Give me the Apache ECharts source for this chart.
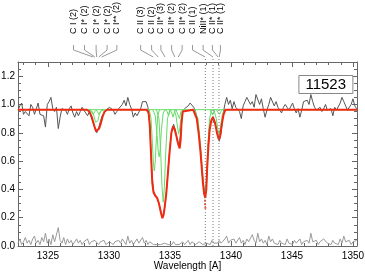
<!DOCTYPE html>
<html>
<head>
<meta charset="utf-8">
<script src="https://cdn.jsdelivr.net/npm/echarts@6/dist/echarts.min.js"></script>
<style>
  html, body { margin: 0; padding: 0; background: #fff; }
  #chart { width: 365px; height: 275px; }
</style>
</head>
<body>
<div id="chart"></div>
<script>
// observed spectrum on a regular wavelength grid (A)
const waveStart = 1322.55;
const waveStep = 0.15;

// normalised flux (10 points per row)
const flux = [
  0.96, 0.99, 1.01, 0.93, 0.95, 0.96, 0.92, 1.00, 0.98, 0.93,
  0.97, 1.01, 0.93, 0.94, 0.92, 0.84, 1.00, 1.02, 1.05, 0.97,
  0.95, 0.98, 0.83, 0.91, 0.97, 0.98, 0.96, 0.93, 0.97, 0.99,
  0.94, 0.91, 0.95, 0.92, 0.95, 0.98, 0.96, 0.94, 0.92, 0.95,
  0.91, 0.87, 0.83, 0.80, 0.83, 0.88, 0.92, 0.93, 0.96, 0.96,
  0.98, 0.97, 0.96, 0.93, 0.95, 0.97, 0.96, 1.00, 1.03, 0.99,
  1.05, 1.00, 0.97, 0.91, 0.94, 0.92, 0.91, 0.97, 1.02, 1.01,
  1.02, 0.98, 0.86, 0.55, 0.39, 0.36, 0.34, 0.30, 0.25, 0.20,
  0.26, 0.37, 0.54, 0.70, 0.82, 0.86, 0.82, 0.74, 0.70, 0.82,
  0.95, 0.97, 0.98, 0.99, 1.01, 1.02, 0.98, 0.95, 0.88, 0.78,
  0.62, 0.46, 0.35, 0.44, 0.72, 0.86, 0.90, 0.91, 0.85, 0.79,
  0.74, 0.80, 0.93, 1.00, 1.05, 1.00, 1.03, 0.97, 1.02, 0.98,
  0.99, 0.95, 0.90, 0.99, 1.02, 1.05, 1.04, 1.00, 1.02, 0.98,
  1.07, 1.08, 1.00, 1.04, 0.97, 0.91, 0.96, 1.00, 1.05, 1.06,
  0.99, 1.02, 0.98, 0.96, 0.94, 0.98, 1.00, 0.98, 0.96, 0.95,
  1.01, 0.97, 0.94, 0.97, 0.91, 0.96, 1.02, 1.01, 1.03, 1.00,
  1.07, 1.02, 0.98, 0.96, 0.96, 0.98, 0.95, 0.97, 1.00, 0.96,
  0.97, 0.97, 0.92, 0.98, 0.96, 0.97, 1.01, 1.05, 1.02, 0.99,
  0.96, 0.97, 1.00, 1.04, 0.99, 0.97
];

// error spectrum along the bottom
const fluxErr = [
  0.02, 0.05, 0.01, 0.03, 0.06, 0.02, 0.04, 0.01, 0.05, 0.07,
  0.02, 0.04, 0.01, 0.06, 0.03, 0.09, 0.02, 0.05, 0.01, 0.08,
  0.03, 0.02, 0.13, 0.04, 0.02, 0.06, 0.01, 0.05, 0.02, 0.04,
  0.01, 0.03, 0.05, 0.02, 0.04, 0.01, 0.03, 0.02, 0.05, 0.01,
  0.03, 0.02, 0.04, 0.05, 0.01, 0.03, 0.02, 0.04, 0.01, 0.02,
  0.03, 0.04, 0.01, 0.03, 0.02, 0.04, 0.02, 0.05, 0.03, 0.01,
  0.07, 0.02, 0.04, 0.01, 0.03, 0.05, 0.02, 0.03, 0.06, 0.02,
  0.04, 0.01, 0.03, 0.02, 0.01, 0.02, 0.01, 0.02, 0.01, 0.01,
  0.02, 0.01, 0.01, 0.02, 0.01, 0.03, 0.01, 0.02, 0.01, 0.02,
  0.03, 0.01, 0.02, 0.04, 0.01, 0.03, 0.02, 0.01, 0.02, 0.03,
  0.02, 0.01, 0.01, 0.02, 0.03, 0.01, 0.04, 0.02, 0.03, 0.02,
  0.04, 0.02, 0.03, 0.05, 0.07, 0.02, 0.04, 0.03, 0.05, 0.02,
  0.03, 0.06, 0.02, 0.04, 0.01, 0.05, 0.03, 0.02, 0.08, 0.04,
  0.02, 0.09, 0.03, 0.05, 0.02, 0.04, 0.01, 0.07, 0.03, 0.05,
  0.02, 0.03, 0.01, 0.04, 0.02, 0.03, 0.01, 0.05, 0.02, 0.03,
  0.01, 0.04, 0.02, 0.03, 0.05, 0.01, 0.03, 0.02, 0.04, 0.02,
  0.09, 0.03, 0.02, 0.04, 0.01, 0.03, 0.02, 0.05, 0.06, 0.02,
  0.03, 0.01, 0.04, 0.02, 0.03, 0.01, 0.05, 0.02, 0.07, 0.03,
  0.02, 0.04, 0.01, 0.03, 0.02, 0.04
];

// total fit (red)
const modelWave = [
  1322.55, 1328.2, 1328.4, 1328.6, 1328.8, 1328.95, 1329.05, 1329.2, 1329.35, 1329.5, 1329.65, 1329.85,
  1333.1, 1333.25, 1333.35, 1333.45, 1333.55, 1333.65, 1333.8, 1333.95, 1334.1, 1334.25, 1334.38,
  1334.48, 1334.58, 1334.7, 1334.85, 1334.98, 1335.12, 1335.26, 1335.4, 1335.55, 1335.68, 1335.8,
  1335.88, 1335.95, 1336.05, 1336.2,
  1336.9, 1337.05, 1337.2, 1337.35, 1337.5, 1337.6, 1337.7, 1337.8, 1337.9, 1337.98, 1338.05,
  1338.15, 1338.25, 1338.4, 1338.53, 1338.7, 1338.85, 1339.0, 1339.1, 1339.25, 1339.4, 1339.55, 1350.33
];
const modelFlux = [
  0.963, 0.963, 0.95, 0.91, 0.85, 0.81, 0.81, 0.83, 0.87, 0.92, 0.95, 0.963,
  0.963, 0.94, 0.85, 0.65, 0.45, 0.38, 0.355, 0.34, 0.30, 0.24, 0.196,
  0.22, 0.28, 0.37, 0.53, 0.67, 0.80, 0.845, 0.82, 0.77, 0.72, 0.69,
  0.75, 0.87, 0.95, 0.963,
  0.963, 0.95, 0.90, 0.80, 0.67, 0.56, 0.45, 0.37, 0.34, 0.40, 0.55,
  0.70, 0.82, 0.89, 0.91, 0.87, 0.80, 0.755, 0.77, 0.86, 0.93, 0.963, 0.963
];
// sparse model points below the narrow dip
const modelDots = [[1337.88, 0.32], [1337.88, 0.295], [1337.9, 0.27]];

// individual fit components (green), [wavelength, flux]
const fitLevel = [[1322.55, 0.963], [1350.33, 0.963]];
const components = [
  [[1328.45, 0.963], [1328.65, 0.95], [1328.8, 0.91], [1328.9, 0.875], [1329.0, 0.865], [1329.1, 0.885], [1329.2, 0.925], [1329.35, 0.955], [1329.55, 0.963]],
  [[1328.95, 0.963], [1329.1, 0.95], [1329.2, 0.93], [1329.3, 0.95], [1329.45, 0.963]],
  [[1328.35, 0.963], [1328.55, 0.95], [1328.7, 0.93], [1328.85, 0.95], [1329.0, 0.963]],
  [[1329.4, 0.963], [1329.55, 0.955], [1329.65, 0.95], [1329.75, 0.955], [1329.9, 0.963]],
  [[1333.3, 0.963], [1333.45, 0.9], [1333.55, 0.75], [1333.65, 0.58], [1333.72, 0.53], [1333.8, 0.6], [1333.9, 0.78], [1334.0, 0.92], [1334.15, 0.963]],
  [[1333.6, 0.963], [1333.8, 0.92], [1333.95, 0.78], [1334.05, 0.66], [1334.12, 0.63], [1334.2, 0.68], [1334.3, 0.82], [1334.45, 0.94], [1334.6, 0.963]],
  [[1333.9, 0.963], [1334.1, 0.9], [1334.25, 0.65], [1334.35, 0.42], [1334.45, 0.31], [1334.55, 0.42], [1334.65, 0.65], [1334.8, 0.9], [1335.0, 0.963]],
  [[1334.6, 0.963], [1334.78, 0.95], [1334.88, 0.92], [1334.98, 0.95], [1335.15, 0.963]],
  [[1334.95, 0.963], [1335.12, 0.95], [1335.25, 0.91], [1335.38, 0.95], [1335.55, 0.963]],
  [[1335.35, 0.963], [1335.5, 0.92], [1335.62, 0.84], [1335.72, 0.79], [1335.82, 0.84], [1335.95, 0.93], [1336.1, 0.963]],
  [[1335.5, 0.963], [1335.65, 0.95], [1335.78, 0.9], [1335.9, 0.95], [1336.05, 0.963]],
  [[1337.0, 0.963], [1337.3, 0.9], [1337.5, 0.72], [1337.65, 0.55], [1337.78, 0.42], [1337.88, 0.36], [1337.98, 0.45], [1338.1, 0.7], [1338.25, 0.9], [1338.4, 0.963]],
  [[1338.3, 0.963], [1338.42, 0.95], [1338.5, 0.925], [1338.58, 0.95], [1338.7, 0.963]],
  [[1338.6, 0.963], [1338.8, 0.9], [1338.93, 0.82], [1339.02, 0.79], [1339.12, 0.83], [1339.3, 0.93], [1339.5, 0.963]],
  [[1338.8, 0.963], [1338.95, 0.95], [1339.06, 0.93], [1339.17, 0.95], [1339.3, 0.963]]
];

// line identifications above the frame
const lineIdTexts = [
  'C I (2)', 'C I* (2)', 'C I* (2)', 'C I* (2)', 'C I** (2)',
  'C II (3)', 'C II (2)', 'C II* (3)', 'C II* (2)', 'C II* (2)', 'C II (1)', 'NiII* (1)', 'C II* (1)', 'C II* (1)'
];
const lineIdLabelWave = [
  1327.1, 1328.0, 1328.95, 1329.85, 1330.65,
  1332.6, 1333.5, 1334.26, 1335.14, 1336.0, 1336.85, 1337.72, 1338.48, 1339.14
];
const lineIdWave = [
  1328.7, 1328.85, 1329.0, 1329.17, 1329.4,
  1333.63, 1334.04, 1334.6, 1335.4, 1335.68, 1337.88, 1338.53, 1338.95, 1339.04
];
const markedWave = [1337.9, 1338.53, 1339.02];

const majorX = [1325, 1330, 1335, 1340, 1345, 1350];
const minorX = [1323, 1324, 1326, 1327, 1328, 1329, 1331, 1332, 1333, 1334, 1336, 1337, 1338, 1339,
  1341, 1342, 1343, 1344, 1346, 1347, 1348, 1349];
const majorY = [0, 0.2, 0.4, 0.6, 0.8, 1.0, 1.2];
const minorY = [0.05, 0.1, 0.15, 0.25, 0.3, 0.35, 0.45, 0.5, 0.55, 0.65, 0.7, 0.75, 0.85, 0.9, 0.95,
  1.05, 1.1, 1.15, 1.25];
const boxLabel = '11523';

const xMin = 1322.55, xMax = 1350.33, yMin = 0, yMax = 1.3;
const axisColor = '#666';
const font = 'Liberation Sans';

const wave = flux.map((_, i) => +(waveStart + i * waveStep).toFixed(2));

function xAxisDef(pos, ticks, len, withLabel) {
  return {
    type: 'value', min: xMin, max: xMax, position: pos,
    axisLine: { show: withLabel !== undefined, onZero: false, lineStyle: { color: axisColor, width: 1 } },
    axisTick: { show: true, inside: true, length: len, customValues: ticks, lineStyle: { color: axisColor } },
    axisLabel: withLabel ? { show: true, customValues: ticks, fontSize: 10, fontFamily: font, color: '#000', margin: 5,
      formatter: v => String(v) } : { show: false },
    splitLine: { show: false }
  };
}
function yAxisDef(pos, ticks, len, withLabel) {
  return {
    type: 'value', min: yMin, max: yMax, position: pos,
    axisLine: { show: withLabel !== undefined, onZero: false, lineStyle: { color: axisColor, width: 1 } },
    axisTick: { show: true, inside: true, length: len, customValues: ticks, lineStyle: { color: axisColor } },
    axisLabel: withLabel ? { show: true, customValues: ticks, fontSize: 10, fontFamily: font, color: '#000', margin: 3,
      formatter: v => v.toFixed(1) } : { show: false },
    splitLine: { show: false }
  };
}

const xAxes = [xAxisDef('bottom', majorX, 5, true), xAxisDef('top', majorX, 5, false),
  xAxisDef('bottom', minorX, 3), xAxisDef('top', minorX, 3)];
xAxes[0].name = 'Wavelength [A]';
xAxes[0].nameLocation = 'middle';
xAxes[0].nameGap = 15;
xAxes[0].nameMoveOverlap = false;
xAxes[0].nameTextStyle = { fontSize: 10, fontFamily: font, color: '#000', verticalAlign: 'top' };

const yAxes = [yAxisDef('left', majorY, 5, true), yAxisDef('right', majorY, 5, false),
  yAxisDef('left', minorY, 3), yAxisDef('right', minorY, 3)];

function renderLineId(params, api) {
  const top = api.coord([api.value(1), yMax]);
  const lx = api.coord([api.value(0), yMax])[0];
  return {
    type: 'group',
    children: [
      { type: 'polyline', shape: { points: [[lx, top[1] - 17], [lx, top[1] - 12], [top[0], top[1] - 5]] },
        style: { stroke: '#999', lineWidth: 1, fill: 'none' } },
      { type: 'text', x: lx, y: top[1] - 28, rotation: Math.PI / 2,
        style: { text: lineIdTexts[params.dataIndex], x: 0, y: 0, align: 'left', verticalAlign: 'middle',
          fontSize: 9, fontFamily: font, fill: '#000' } }
    ]
  };
}
function renderMark(params, api) {
  const p0 = api.coord([api.value(0), yMin]);
  const p1 = api.coord([api.value(0), yMax]);
  return { type: 'line', shape: { x1: p0[0], y1: p0[1], x2: p1[0], y2: p1[1] - 4 },
    style: { stroke: '#777', lineWidth: 1, lineDash: [1, 2] } };
}

const series = [
  { type: 'line', data: wave.map((w, i) => [w, fluxErr[i]]), symbol: 'none', z: 1,
    lineStyle: { color: '#9a9a9a', width: 1 } },
  { type: 'line', data: wave.map((w, i) => [w, flux[i]]), symbol: 'none', z: 2,
    lineStyle: { color: '#555', width: 1 } },
  { type: 'line', data: fitLevel, symbol: 'none', z: 3, lineStyle: { color: '#66dd66', width: 1 } }
];
components.forEach(c => series.push({ type: 'line', data: c, symbol: 'none', z: 3,
  lineStyle: { color: '#66dd66', width: 1 } }));
series.push(
  { type: 'line', data: modelWave.map((w, i) => [w, modelFlux[i]]), symbol: 'none', z: 4,
    lineStyle: { color: '#f02a10', width: 2 } },
  { type: 'scatter', data: modelDots, symbol: 'rect', symbolSize: 2, z: 4, itemStyle: { color: '#f02a10' } },
  { type: 'custom', data: markedWave.map(w => [w, yMin]), encode: { x: 0, y: 1 }, clip: false, z: 5,
    renderItem: renderMark },
  { type: 'custom', data: lineIdWave.map((w, i) => [lineIdLabelWave[i], w, yMax]), encode: { x: [0, 1], y: 2 },
    clip: false, z: 5, renderItem: renderLineId }
);

const chart = echarts.init(document.getElementById('chart'), null, { renderer: 'canvas' });
chart.setOption({
  animation: false,
  backgroundColor: '#fff',
  title: {
    text: boxLabel, right: 12, top: 75, padding: [2, 7],
    borderWidth: 1, borderColor: '#888', backgroundColor: '#fff',
    textStyle: { fontSize: 15, fontWeight: 'normal', fontFamily: font, color: '#000' }
  },
  grid: { left: 18, right: 8, top: 62, bottom: 29, outerBoundsMode: 'none' },
  xAxis: xAxes,
  yAxis: yAxes,
  series: series
});
</script>
</body>
</html>
